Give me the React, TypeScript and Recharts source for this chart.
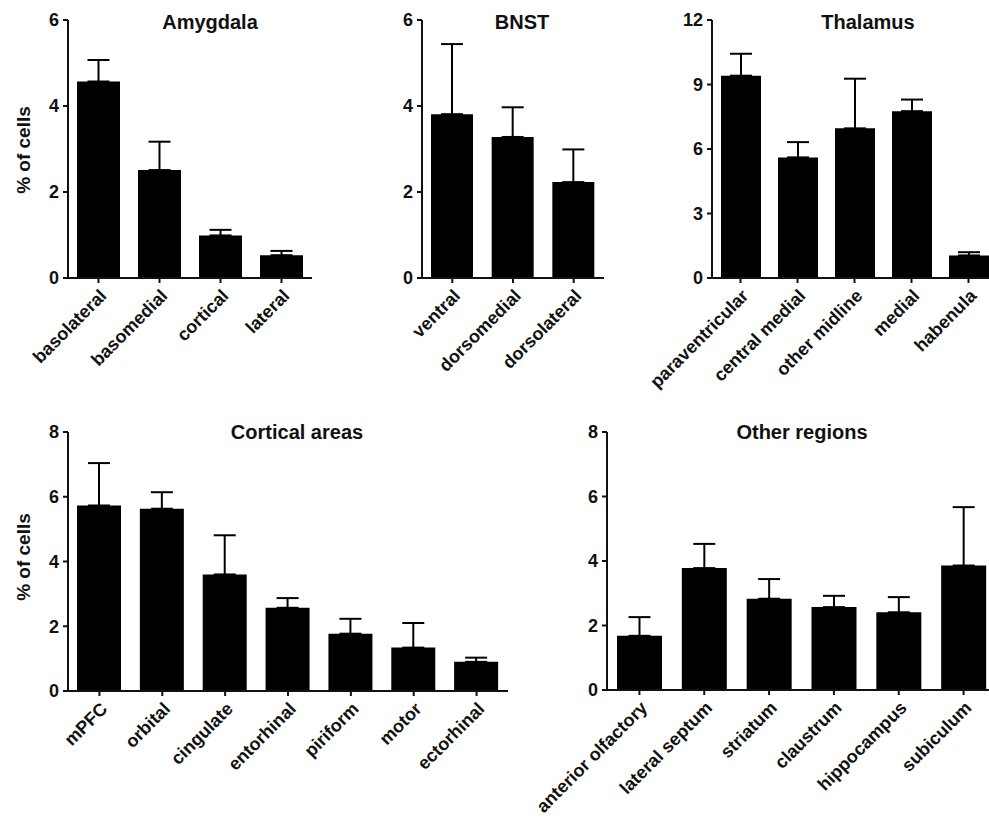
import React from 'react';
import { BarChart, Bar, XAxis, YAxis, ErrorBar } from 'recharts';

const FONT = "'Liberation Sans', Arial, Helvetica, sans-serif";

// Amygdala
const amyRegions = ['basolateral', 'basomedial', 'cortical', 'lateral'];
const amyMeans = [4.57, 2.51, 0.99, 0.53];
const amySem = [0.5, 0.66, 0.13, 0.1];

// BNST
const bnstRegions = ['ventral', 'dorsomedial', 'dorsolateral'];
const bnstMeans = [3.81, 3.28, 2.23];
const bnstSem = [1.63, 0.69, 0.76];

// Thalamus
const thalRegions = ['paraventricular', 'central medial', 'other midline', 'medial', 'habenula'];
const thalMeans = [9.41, 5.61, 6.96, 7.76, 1.05];
const thalSem = [1.02, 0.71, 2.31, 0.54, 0.15];

// Cortical areas
const ctxRegions = ['mPFC', 'orbital', 'cingulate', 'entorhinal', 'piriform', 'motor', 'ectorhinal'];
const ctxMeans = [5.73, 5.63, 3.6, 2.57, 1.77, 1.34, 0.9];
const ctxSem = [1.31, 0.51, 1.21, 0.3, 0.46, 0.76, 0.13];

// Other regions
const otherRegions = ['anterior olfactory', 'lateral septum', 'striatum', 'claustrum', 'hippocampus', 'subiculum'];
const otherMeans = [1.68, 3.78, 2.83, 2.57, 2.41, 3.86];
const otherSem = [0.58, 0.75, 0.61, 0.35, 0.47, 1.81];

const ticks6 = [0, 2, 4, 6];
const ticks12 = [0, 3, 6, 9, 12];
const ticks8 = [0, 2, 4, 6, 8];

const build = (names: string[], means: number[], sem: number[]) =>
  names.map((name, i) => ({ name, value: means[i], err: [0, sem[i]] }));

function XTick(props: any) {
  const { x, y, payload } = props;
  const ax = x + 9;
  const ay = y + 12;
  return (
    <text
      x={ax}
      y={ay}
      transform={`rotate(-45 ${ax} ${ay})`}
      textAnchor="end"
      fontFamily={FONT}
      fontWeight="bold"
      fontSize={18}
      fill="#111"
    >
      {payload.value}
    </text>
  );
}

type PanelProps = {
  data: { name: string; value: number; err: number[] }[];
  left: number;
  top: number;
  width: number;
  height: number;
  margin: { top: number; right: number; left: number; bottom: number };
  ticks: number[];
  barSize: number;
};

function Panel({ data, left, top, width, height, margin, ticks, barSize }: PanelProps) {
  return (
    <div style={{ position: 'absolute', left, top }}>
      <BarChart width={width} height={height} data={data} margin={margin}>
        <XAxis
          dataKey="name"
          interval={0}
          height={30}
          axisLine={{ stroke: '#111', strokeWidth: 2 }}
          tickLine={{ stroke: '#111', strokeWidth: 2 }}
          tickSize={5}
          tickMargin={2}
          tick={(p: any) => <XTick {...p} />}
        />
        <YAxis
          width={40}
          domain={[0, ticks[ticks.length - 1]]}
          ticks={ticks}
          allowDataOverflow
          axisLine={{ stroke: '#111', strokeWidth: 2 }}
          tickLine={{ stroke: '#111', strokeWidth: 2 }}
          tickSize={5}
          tickMargin={4}
          tick={{ fontFamily: FONT, fontWeight: 'bold', fontSize: 18, fill: '#111' }}
        />
        <Bar dataKey="value" fill="#000" barSize={barSize} isAnimationActive={false}>
          <ErrorBar dataKey="err" direction="y" width={11} stroke="#000" strokeWidth={2} />
        </Bar>
      </BarChart>
    </div>
  );
}

const titleStyle = { fontFamily: FONT, fontWeight: 'bold' as const, fontSize: 20, fill: '#111' };
const labelStyle = { fontFamily: FONT, fontWeight: 'bold' as const, fontSize: 19, fill: '#111' };

export default function App() {
  return (
    <div
      style={{
        position: 'absolute',
        left: 0,
        top: 0,
        width: 989,
        height: 818,
        overflow: 'hidden',
        background: '#fff',
      }}
    >
      <Panel
        data={build(amyRegions, amyMeans, amySem)}
        left={0}
        top={0}
        width={330}
        height={400}
        margin={{ top: 20, right: 18, left: 28, bottom: 92 }}
        ticks={ticks6}
        barSize={43}
      />
      <Panel
        data={build(bnstRegions, bnstMeans, bnstSem)}
        left={330}
        top={0}
        width={290}
        height={400}
        margin={{ top: 20, right: 16, left: 52, bottom: 92 }}
        ticks={ticks6}
        barSize={42}
      />
      <Panel
        data={build(thalRegions, thalMeans, thalSem)}
        left={620}
        top={0}
        width={390}
        height={400}
        margin={{ top: 20, right: 13, left: 52, bottom: 92 }}
        ticks={ticks12}
        barSize={40}
      />
      <Panel
        data={build(ctxRegions, ctxMeans, ctxSem)}
        left={0}
        top={400}
        width={520}
        height={418}
        margin={{ top: 32, right: 12, left: 28, bottom: 97 }}
        ticks={ticks8}
        barSize={44}
      />
      <Panel
        data={build(otherRegions, otherMeans, otherSem)}
        left={520}
        top={400}
        width={490}
        height={418}
        margin={{ top: 32, right: 14, left: 47, bottom: 98 }}
        ticks={ticks8}
        barSize={45}
      />
      <svg
        width={989}
        height={818}
        style={{ position: 'absolute', left: 0, top: 0, pointerEvents: 'none' }}
      >
        <text x={210} y={29} textAnchor="middle" {...titleStyle}>Amygdala</text>
        <text x={522} y={29} textAnchor="middle" {...titleStyle}>BNST</text>
        <text x={868} y={29} textAnchor="middle" {...titleStyle}>Thalamus</text>
        <text x={297} y={439} textAnchor="middle" {...titleStyle}>Cortical areas</text>
        <text x={802} y={439} textAnchor="middle" {...titleStyle}>Other regions</text>
        <text x={30} y={150} textAnchor="middle" transform="rotate(-90 30 150)" {...labelStyle}>% of cells</text>
        <text x={30} y={557} textAnchor="middle" transform="rotate(-90 30 557)" {...labelStyle}>% of cells</text>
      </svg>
    </div>
  );
}
